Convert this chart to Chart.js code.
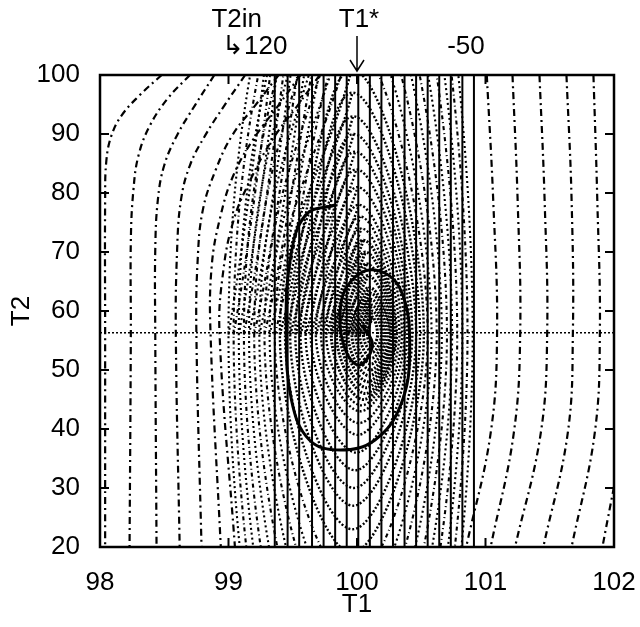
<!DOCTYPE html>
<html>
<head>
<meta charset="utf-8">
<script src="https://cdn.jsdelivr.net/npm/chart.js@4.4.0/dist/chart.umd.min.js"></script>
<style>
  html, body { margin: 0; padding: 0; background: #fff; }
  #wrap { width: 640px; height: 627px; }
</style>
</head>
<body>
<div id="wrap"><canvas id="chart"></canvas></div>
<script>
// axis ticks
const xTicks = [98, 99, 100, 101, 102];
const yTicks = [20, 30, 40, 50, 60, 70, 80, 90, 100];

// T2in values of the solid vertical lines (120 on the left, -50 on the right) and their T1
const t2inValues = [120, 110, 100, 90, 80, 70, 60, 50, 40, 30, 20, 10, 0, -10, -20, -30, -40, -50];
const verticalT1 = [99.36, 99.46, 99.55, 99.65, 99.74, 99.83, 99.92, 100.01, 100.10, 100.19,
                    100.28, 100.37, 100.46, 100.55, 100.64, 100.73, 100.82, 100.91];

// open dash-dot contours, left side: [T1, T2] points
const leftContours = [
  [[98.48, 100], [98.31, 96.6], [98.17, 93.2], [98.09, 89.8], [98.05, 85.6], [98.04, 78.8], [98.04, 56.3], [98.04, 20]],
  [[98.70, 100], [98.53, 96.1], [98.39, 91.5], [98.30, 86.4], [98.26, 80.5], [98.24, 72.0], [98.24, 56.3], [98.23, 20]],
  [[98.89, 100], [98.74, 94.9], [98.60, 89.8], [98.50, 84.7], [98.45, 78.8], [98.43, 70.3], [98.43, 56.3], [98.44, 20]],
  [[99.13, 100], [98.97, 94.9], [98.82, 89.8], [98.70, 84.7], [98.63, 78.8], [98.60, 70.3], [98.59, 56.3], [98.62, 20]],
  [[99.39, 100], [99.21, 94.9], [99.03, 89.8], [98.90, 83.9], [98.80, 77.1], [98.76, 68.6], [98.75, 56.3], [98.79, 20]],
  [[99.56, 100], [99.39, 94.9], [99.19, 89.0], [99.04, 83.1], [98.94, 76.3], [98.87, 67.8], [98.86, 56.3], [98.94, 20]],
  [[99.71, 100], [99.54, 94.9], [99.34, 89.0], [99.17, 82.2], [99.04, 75.4], [98.96, 66.9], [98.93, 56.3], [99.05, 20]]
];

// open dash-dot contours, right side
const rightContours = [
  [[101.01, 100], [101.06, 78.8], [101.09, 56.3], [101.04, 39.3], [100.85, 20]],
  [[101.21, 100], [101.25, 78.8], [101.27, 56.3], [101.22, 39.3], [101.04, 20]],
  [[101.42, 100], [101.46, 78.8], [101.48, 56.3], [101.43, 39.3], [101.23, 20]],
  [[101.63, 100], [101.67, 78.8], [101.68, 56.3], [101.64, 39.3], [101.45, 20]],
  [[101.84, 100], [101.87, 78.8], [101.89, 56.3], [101.85, 39.3], [101.67, 20]],
  [[102.00, 30.2], [101.95, 24.6], [101.91, 20]]
];

// closed dotted contours around the steady state: left, right, top, bottom
const ringLeft   = [99.00, 99.04, 99.08, 99.12, 99.16, 99.20, 99.24, 99.28, 99.32, 99.36,
                    99.40, 99.44, 99.48, 99.52, 99.56, 99.60, 99.64, 99.68, 99.72, 99.76,
                    99.80, 99.84, 99.87, 99.90, 99.93, 99.96, 99.99, 100.02, 100.05, 100.08];
const ringRight  = [100.90, 100.86, 100.82, 100.78, 100.74, 100.70, 100.66, 100.62, 100.58, 100.55,
                    100.52, 100.49, 100.46, 100.43, 100.41, 100.39, 100.37, 100.35, 100.33, 100.31,
                    100.30, 100.29, 100.28, 100.27, 100.26, 100.25, 100.23, 100.21, 100.19, 100.16];
const ringTop    = [180, 170, 160, 150, 140, 132, 125, 118, 112, 106,
                    101, 97, 93, 90, 87, 84, 81, 78, 76, 74,
                    72, 70, 68, 66, 64, 63, 62, 61, 60, 59];
const ringBottom = [-60, -50, -40, -30, -20, -12, -5, 2, 8, 14,
                    19, 23, 27, 30, 33, 36, 39, 41, 43, 44,
                    45, 46, 47, 48, 49, 50, 51, 52, 53, 54];
const ringMidT2 = 56;

// spiral trajectory (solid)
const spiral = [
  [99.83, 77.97], [99.60, 76.27], [99.48, 68.64], [99.45, 56.78], [99.49, 44.92],
  [99.63, 38.14], [99.87, 36.44], [100.14, 38.14], [100.34, 44.07], [100.41, 53.39],
  [100.34, 63.56], [100.14, 66.95], [99.95, 64.98], [99.87, 60.17], [99.91, 53.39],
  [100.02, 50.85], [100.12, 54.24], [100.04, 57.63]
];

// steady state marks
const t1Star = 100;
const t2Star = 56.3;

const FONT = '"Liberation Sans", Arial, Helvetica, sans-serif';
const toPts = arr => arr.map(p => ({ x: p[0], y: p[1] }));

const datasets = [];

datasets.push({
  data: toPts(spiral),
  borderColor: '#000', borderWidth: 3, tension: 0.4
});

verticalT1.forEach(v => {
  datasets.push({
    data: [{ x: v, y: 20 }, { x: v, y: 100 }],
    borderColor: '#000', borderWidth: 2
  });
});

datasets.push({
  data: [{ x: 98, y: t2Star }, { x: 102, y: t2Star }],
  borderColor: '#000', borderWidth: 1.5, borderDash: [2, 2]
});

leftContours.concat(rightContours).forEach(c => {
  datasets.push({
    data: toPts(c),
    borderColor: '#000', borderWidth: 2.2, borderDash: [7, 4, 2, 4], tension: 0.4
  });
});

ringLeft.forEach((l, i) => {
  const r = ringRight[i];
  const cx = (l + r) / 2;
  const inner = i >= 20;
  const middle = i >= 10 && !inner;
  datasets.push({
    data: [
      { x: l, y: ringMidT2 }, { x: cx, y: ringTop[i] }, { x: r, y: ringMidT2 },
      { x: cx, y: ringBottom[i] }, { x: l, y: ringMidT2 }, { x: cx, y: ringTop[i] }
    ],
    borderColor: '#000',
    borderWidth: inner ? 3 : (middle ? 2.4 : 2.1),
    borderDash: inner ? [2, 1.5] : (middle ? [2, 2] : (i % 2 ? [4, 3, 1, 3] : [2, 3])),
    tension: 0.4
  });
});

datasets.forEach(d => { d.showLine = true; d.pointRadius = 0; d.fill = false; });

const framePlugin = {
  id: 'frame',
  afterDraw(chart) {
    const ctx = chart.ctx;
    const a = chart.chartArea;
    const xs = chart.scales.x, ys = chart.scales.y;
    ctx.save();
    ctx.strokeStyle = '#000';
    ctx.lineWidth = 2.5;
    ctx.strokeRect(a.left, a.top, a.right - a.left, a.bottom - a.top);
    ctx.lineWidth = 2;
    const tl = 9;
    yTicks.forEach(v => {
      const p = ys.getPixelForValue(v);
      ctx.beginPath();
      ctx.moveTo(a.left, p); ctx.lineTo(a.left + tl, p);
      ctx.moveTo(a.right, p); ctx.lineTo(a.right - tl, p);
      ctx.stroke();
    });
    xTicks.forEach(v => {
      const p = xs.getPixelForValue(v);
      ctx.beginPath();
      ctx.moveTo(p, a.bottom); ctx.lineTo(p, a.bottom - tl);
      ctx.moveTo(p, a.top); ctx.lineTo(p, a.top + tl);
      ctx.stroke();
    });

    // annotations above the frame
    ctx.fillStyle = '#000';
    ctx.font = '26px ' + FONT;
    ctx.textAlign = 'center';
    ctx.textBaseline = 'middle';
    const pLeft = xs.getPixelForValue(verticalT1[0]);
    const pRight = xs.getPixelForValue(verticalT1[verticalT1.length - 1]);
    const pStar = xs.getPixelForValue(t1Star);
    ctx.fillText('T2in', pLeft - 38, 20);
    ctx.fillText('\u21B3' + t2inValues[0], pLeft - 20, 47);
    ctx.fillText(String(t2inValues[t2inValues.length - 1]), pRight - 8, 47);
    ctx.fillText('T1*', pStar + 2, 20);
    ctx.lineWidth = 1.5;
    ctx.beginPath();
    ctx.moveTo(pStar, 36); ctx.lineTo(pStar, 71);
    ctx.moveTo(pStar - 7, 60); ctx.lineTo(pStar, 71); ctx.lineTo(pStar + 7, 60);
    ctx.stroke();
    ctx.restore();
  }
};

new Chart(document.getElementById('chart'), {
  type: 'scatter',
  data: { datasets: datasets },
  options: {
    responsive: true,
    maintainAspectRatio: false,
    animation: false,
    layout: { padding: { top: 75, right: 26, left: 0, bottom: 0 } },
    plugins: { legend: { display: false }, tooltip: { enabled: false } },
    scales: {
      x: {
        type: 'linear', min: 98, max: 102,
        afterBuildTicks: s => { s.ticks = xTicks.map(v => ({ value: v })); },
        afterFit: s => { s.height = 80; s.paddingLeft = 0; s.paddingRight = 0; },
        grid: { display: false },
        border: { display: false },
        ticks: { color: '#000', font: { family: FONT, size: 26 }, padding: 12, maxRotation: 0 },
        title: { display: true, text: 'T1', color: '#000', font: { family: FONT, size: 26 }, padding: { top: 0, bottom: 7 } }
      },
      y: {
        type: 'linear', min: 20, max: 100,
        afterBuildTicks: s => { s.ticks = yTicks.map(v => ({ value: v })); },
        afterFit: s => { s.width = 100; s.paddingTop = 0; s.paddingBottom = 0; },
        grid: { display: false },
        border: { display: false },
        ticks: { color: '#000', font: { family: FONT, size: 26 }, padding: 12 },
        title: { display: true, text: 'T2', color: '#000', font: { family: FONT, size: 26 }, padding: { top: 6, bottom: 0 } }
      }
    }
  },
  plugins: [framePlugin]
});
</script>
</body>
</html>
